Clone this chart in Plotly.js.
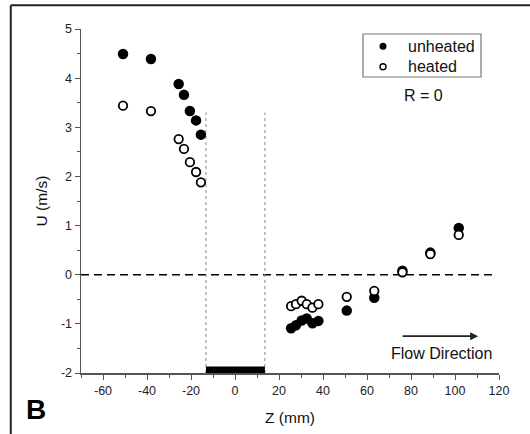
<!DOCTYPE html>
<html>
<head>
<meta charset="utf-8">
<script src="https://cdn.plot.ly/plotly-3.0.1.min.js"></script>
<style>html,body{margin:0;padding:0;background:#fff;}#chart{width:530px;height:434px;}</style>
</head>
<body>
<div id="chart"></div>
<script>
// Data
const zPositions = [-50.9, -38.2, -25.6, -23.2, -20.5, -17.7, -15.5, 25.5, 27.7, 30.3, 32.6, 35.2, 37.9, 50.8, 63.3, 76.1, 88.8, 101.7];
const uUnheated = [4.49, 4.39, 3.88, 3.66, 3.33, 3.14, 2.85, -1.09, -1.03, -0.93, -0.89, -0.99, -0.94, -0.73, -0.47, 0.08, 0.45, 0.95];
const uHeated = [3.44, 3.33, 2.76, 2.56, 2.29, 2.09, 1.88, -0.64, -0.60, -0.53, -0.60, -0.67, -0.60, -0.45, -0.33, 0.05, 0.42, 0.81];
const seriesNames = ["unheated", "heated"];
const heaterEdges = [-13.2, 13.6];
const xTickVals = [-60, -40, -20, 0, 20, 40, 60, 80, 100, 120];
const xTickText = ["-60", "-40", "-20", "0", "20", "40", "60", "80", "100", "120"];
const yTickVals = [-2, -1, 0, 1, 2, 3, 4, 5];
const yTickText = ["-2", "-1", "0", "1", "2", "3", "4", "5"];

const FONT = "Arial, 'Liberation Sans', sans-serif";

const traces = [
  {
    x: zPositions, y: uUnheated, name: seriesNames[0], type: "scatter", mode: "markers",
    marker: {symbol: "circle", size: 10.5, color: "#000", line: {width: 0}}
  },
  {
    x: zPositions, y: uHeated, name: seriesNames[1], type: "scatter", mode: "markers",
    marker: {symbol: "circle", size: 8.5, color: "#fff", line: {width: 1.8, color: "#000"}}
  }
];

// manual legend geometry (paper coordinates)
const legX0 = 0.6746, legX1 = 0.9569, legY0 = 0.8605, legY1 = 0.9855;
const legSymX = 0.7225, legTextX = 0.7775;
const legRowY = [0.9497, 0.8904];

const shapes = [
  // zero dashed line
  {type: "line", xref: "x", yref: "y", x0: -70, x1: 117, y0: 0, y1: 0,
   line: {color: "#000", width: 1.5, dash: "8px,5px"}, layer: "below"},
  // dotted heater edges
  {type: "line", xref: "x", yref: "y", x0: heaterEdges[0], x1: heaterEdges[0], y0: -2, y1: 3.3,
   line: {color: "#888", width: 1, dash: "dot"}, layer: "below"},
  {type: "line", xref: "x", yref: "y", x0: heaterEdges[1], x1: heaterEdges[1], y0: -2, y1: 3.3,
   line: {color: "#888", width: 1, dash: "dot"}, layer: "below"},
  // heater bar
  {type: "rect", xref: "x", yref: "y", x0: heaterEdges[0], x1: heaterEdges[1], y0: -2, y1: -1.87,
   fillcolor: "#000", line: {width: 0}},
  // outer frame (top and left)
  {type: "line", xref: "paper", yref: "paper", x0: -0.168, x1: 1.08, y0: 1.069, y1: 1.069,
   line: {color: "#222", width: 2}},
  {type: "line", xref: "paper", yref: "paper", x0: -0.168, x1: -0.168, y0: 1.069, y1: -0.2,
   line: {color: "#222", width: 2}},
  // legend box
  {type: "rect", xref: "paper", yref: "paper", x0: legX0, x1: legX1, y0: legY0, y1: legY1,
   line: {color: "#777", width: 1.2}, fillcolor: "rgba(0,0,0,0)"},
  // legend symbols
  {type: "circle", xref: "paper", yref: "paper", xsizemode: "pixel", ysizemode: "pixel",
   xanchor: legSymX, yanchor: legRowY[0], x0: -3.5, x1: 3.5, y0: -3.5, y1: 3.5,
   fillcolor: "#000", line: {width: 0}},
  {type: "circle", xref: "paper", yref: "paper", xsizemode: "pixel", ysizemode: "pixel",
   xanchor: legSymX, yanchor: legRowY[1], x0: -3, x1: 3, y0: -3, y1: 3,
   fillcolor: "#fff", line: {width: 1.4, color: "#000"}}
];

const annotations = [
  {x: legTextX, y: legRowY[0], xref: "paper", yref: "paper", xanchor: "left", yanchor: "middle",
   text: seriesNames[0], showarrow: false, font: {family: FONT, size: 16, color: "#111"}},
  {x: legTextX, y: legRowY[1], xref: "paper", yref: "paper", xanchor: "left", yanchor: "middle",
   text: seriesNames[1], showarrow: false, font: {family: FONT, size: 16, color: "#111"}},
  {x: 85.5, y: 3.65, xref: "x", yref: "y", xanchor: "center", yanchor: "middle", text: "R = 0",
   showarrow: false, font: {family: FONT, size: 16, color: "#111"}},
  {x: 94, y: -1.6, xref: "x", yref: "y", xanchor: "center", yanchor: "middle", text: "Flow Direction",
   showarrow: false, font: {family: FONT, size: 16, color: "#111"}},
  {x: 110.5, y: -1.25, xref: "x", yref: "y", ax: 75.5, ay: -1.25, axref: "x", ayref: "y",
   text: "", showarrow: true, arrowhead: 2, arrowsize: 1, arrowwidth: 1.6, arrowcolor: "#222"},
  {x: -0.108, y: -0.105, xref: "paper", yref: "paper", xanchor: "center", yanchor: "middle",
   text: "<b>B</b>", showarrow: false, font: {family: FONT, size: 28, color: "#000"}}
];

const layout = {
  width: 530, height: 434,
  margin: {l: 81, r: 31, t: 29, b: 61, pad: 0},
  paper_bgcolor: "#fff", plot_bgcolor: "#fff",
  font: {family: FONT, size: 12, color: "#222"},
  showlegend: false,
  xaxis: {
    range: [-70, 120], tickvals: xTickVals, ticktext: xTickText, ticks: "outside", ticklen: 5, tickwidth: 1,
    tickcolor: "#555", showline: true, linecolor: "#555", linewidth: 1.5,
    showgrid: false, zeroline: false, mirror: false,
    minor: {dtick: 10, ticks: "outside", ticklen: 3, tickcolor: "#555", showgrid: false},
    tickfont: {family: FONT, size: 12.5, color: "#222"},
    title: {text: "Z (mm)", standoff: 15, font: {family: FONT, size: 15.5, color: "#111"}},
    automargin: false
  },
  yaxis: {
    range: [-2, 5], tickvals: yTickVals, ticktext: yTickText, ticks: "outside", ticklen: 5, tickwidth: 1,
    tickcolor: "#555", showline: true, linecolor: "#555", linewidth: 1.5,
    showgrid: false, zeroline: false, mirror: false,
    minor: {dtick: 0.5, ticks: "outside", ticklen: 3, tickcolor: "#555", showgrid: false},
    tickfont: {family: FONT, size: 12.5, color: "#222"},
    title: {text: "U (m/s)", standoff: 9, font: {family: FONT, size: 15.5, color: "#111"}},
    automargin: false
  },
  shapes: shapes,
  annotations: annotations
};

Plotly.newPlot("chart", traces, layout, {displayModeBar: false, staticPlot: true});
</script>
</body>
</html>
